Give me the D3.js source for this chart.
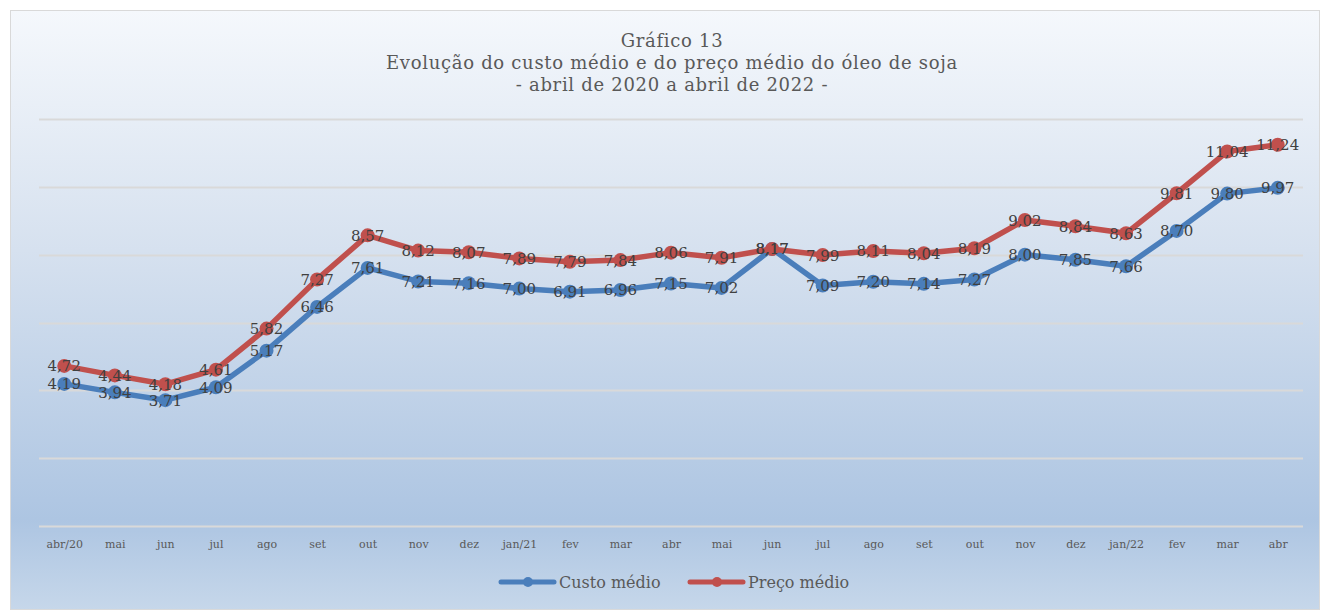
<!DOCTYPE html>
<html>
<head>
<meta charset="utf-8">
<script src="https://cdn.jsdelivr.net/npm/d3@7"></script>
<style>
  body { margin: 0; background: #fff; }
  svg text { font-family: "DejaVu Serif", "Liberation Serif", serif; }
</style>
</head>
<body>
<div class="chart"></div>
<script>
const width = 1320
const height = 610

const months = ["abr/20", "mai", "jun", "jul", "ago", "set", "out", "nov", "dez", "jan/21", "fev", "mar", "abr", "mai", "jun", "jul", "ago", "set", "out", "nov", "dez", "jan/22", "fev", "mar", "abr"]
const custo = [4.19, 3.94, 3.71, 4.09, 5.17, 6.46, 7.61, 7.21, 7.16, 7.00, 6.91, 6.96, 7.15, 7.02, 8.17, 7.09, 7.20, 7.14, 7.27, 8.00, 7.85, 7.66, 8.70, 9.80, 9.97]
const preco = [4.72, 4.44, 4.18, 4.61, 5.82, 7.27, 8.57, 8.12, 8.07, 7.89, 7.79, 7.84, 8.06, 7.91, 8.17, 7.99, 8.11, 8.04, 8.19, 9.02, 8.84, 8.63, 9.81, 11.04, 11.24]
const seriesNames = ["Custo médio", "Preço médio"]
const seriesColors = ["#4a7ebb", "#c0504d"]
const yTicks = [0, 2, 4, 6, 8, 10, 12]
const titleLines = ["Gráfico 13", "Evolução do custo médio e do preço médio do óleo de soja", "- abril de 2020 a abril de 2022 -"]

const svg = d3.select(".chart")
    .append("svg")
    .attr("width", width)
    .attr("height", height)

const defs = svg.append("defs")
const grad = defs.append("linearGradient")
    .attr("id", "bg")
    .attr("x1", "0%").attr("y1", "0%")
    .attr("x2", "0%").attr("y2", "100%")
grad.append("stop").attr("offset", "0%").attr("stop-color", "#f5f8fc")
grad.append("stop").attr("offset", "40%").attr("stop-color", "#d6e1ef")
grad.append("stop").attr("offset", "85%").attr("stop-color", "#adc5e2")
grad.append("stop").attr("offset", "100%").attr("stop-color", "#c6d7ea")

svg.append("rect")
    .attr("x", 10.5).attr("y", 10.5)
    .attr("width", width - 11).attr("height", height - 11)
    .attr("fill", "url(#bg)")
    .attr("stroke", "#d9d9d9")

const margin = { top: 119, right: 17, left: 39, bottom: 84 }
const innerWidth = width - margin.left - margin.right
const innerHeight = height - margin.top - margin.bottom

const xScale = d3.scalePoint()
    .domain(d3.range(months.length))
    .range([0, innerWidth])
    .padding(0.5)

const yScale = d3.scaleLinear()
    .domain([0, 12])
    .range([innerHeight, 0])

const g = svg.append("g")
    .attr("transform", `translate(${margin.left}, ${margin.top})`)

// title
svg.append("g").selectAll("text")
    .data(titleLines)
    .enter().append("text")
    .attr("x", 672)
    .attr("y", (d, i) => 47 + i * 22)
    .attr("text-anchor", "middle")
    .style("font-size", "18px")
    .style("letter-spacing", "0.7px")
    .style("fill", "#595959")
    .text(d => d)

// gridlines
g.selectAll("line.grid")
    .data(yTicks)
    .enter().append("line")
    .attr("class", "grid")
    .attr("x1", 0).attr("x2", innerWidth)
    .attr("y1", d => Math.round(yScale(d)) + 0.5)
    .attr("y2", d => Math.round(yScale(d)) + 0.5)
    .attr("stroke", "#d9d9d9")
    .attr("stroke-width", 2)

// x axis labels
const xAxis = g.append("g")
    .attr("transform", `translate(0, ${innerHeight})`)
    .call(d3.axisBottom(xScale).tickSize(0).tickPadding(14).tickFormat(i => months[i]))
xAxis.select(".domain").remove()
xAxis.selectAll("text")
    .style("font-size", "11px")
    .style("fill", "#595959")
    .style("font-family", "DejaVu Serif, serif")

const fmt = v => v.toFixed(2).replace(".", ",")
const allSeries = [custo, preco]

const line = d3.line()
    .x((d, i) => xScale(i))
    .y(d => yScale(d))

allSeries.forEach((vals, s) => {
    g.append("path")
        .datum(vals)
        .attr("d", line)
        .attr("fill", "none")
        .attr("stroke", seriesColors[s])
        .attr("stroke-width", 5.5)
        .attr("stroke-linejoin", "round")
        .attr("stroke-linecap", "round")

    g.selectAll(null)
        .data(vals)
        .enter().append("circle")
        .attr("cx", (d, i) => xScale(i))
        .attr("cy", d => yScale(d))
        .attr("r", 7)
        .attr("fill", seriesColors[s])
})

allSeries.forEach((vals, s) => {
    g.selectAll(null)
        .data(vals)
        .enter().append("text")
        .attr("x", (d, i) => xScale(i))
        .attr("y", d => yScale(d) + 5.5)
        .attr("text-anchor", "middle")
        .style("font-size", "15px")
        .style("fill", "#404040")
        .text(d => fmt(d))
})

// legend
const legend = svg.append("g").attr("transform", "translate(501, 582)")
const legendX = [0, 189]
seriesNames.forEach((name, i) => {
    const lg = legend.append("g").attr("transform", `translate(${legendX[i]}, 0)`)
    lg.append("line")
        .attr("x1", 0).attr("x2", 53)
        .attr("y1", 0).attr("y2", 0)
        .attr("stroke", seriesColors[i])
        .attr("stroke-width", 5)
        .attr("stroke-linecap", "round")
    lg.append("circle")
        .attr("cx", 27).attr("cy", 0).attr("r", 5)
        .attr("fill", seriesColors[i])
    lg.append("text")
        .attr("x", 58).attr("y", 5.5)
        .style("font-size", "16px")
        .style("fill", "#595959")
        .text(name)
})
</script>
</body>
</html>
